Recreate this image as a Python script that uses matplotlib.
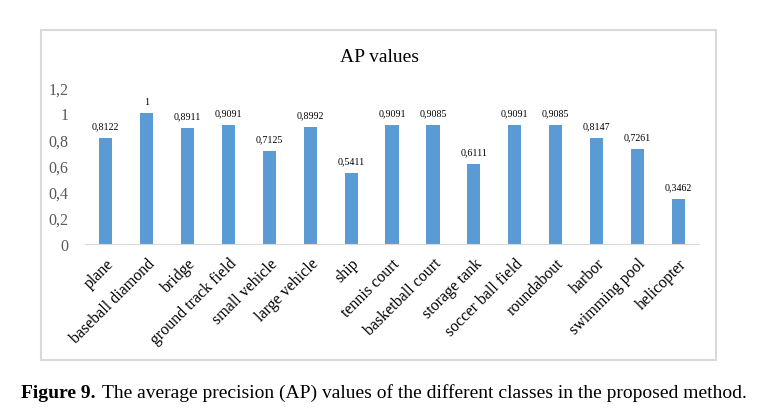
import matplotlib.pyplot as plt
from matplotlib.patches import Rectangle

classes = ["plane", "baseball diamond", "bridge", "ground track field", "small vehicle",
           "large vehicle", "ship", "tennis court", "basketball court", "storage tank",
           "soccer ball field", "roundabout", "harbor", "swimming pool", "helicopter"]
ap_values = [0.8122, 1, 0.8911, 0.9091, 0.7125, 0.8992, 0.5411, 0.9091, 0.9085,
             0.6111, 0.9091, 0.9085, 0.8147, 0.7261, 0.3462]
ap_labels = ["0,8122", "1", "0,8911", "0,9091", "0,7125", "0,8992", "0,5411", "0,9091",
             "0,9085", "0,6111", "0,9091", "0,9085", "0,8147", "0,7261", "0,3462"]
y_ticks = [0, 0.2, 0.4, 0.6, 0.8, 1, 1.2]
y_tick_labels = ["0", "0,2", "0,4", "0,6", "0,8", "1", "1,2"]

plt.rcParams['font.family'] = ['Liberation Serif', 'DejaVu Serif']

fig = plt.figure(figsize=(7.59, 4.14), dpi=100)

# cadre gris autour du graphique
fig.patches.append(Rectangle((0.054, 0.128), 0.889, 0.797, transform=fig.transFigure,
                             fill=False, edgecolor='#D9D9D9', linewidth=1.5))

ax = fig.add_axes([0.112, 0.408, 0.809, 0.379])
x = list(range(len(classes)))
bars = ax.bar(x, ap_values, width=0.32, color='#5B9BD5')

for bar, lab in zip(bars, ap_labels):
    ax.annotate(lab, (bar.get_x() + bar.get_width() / 2, bar.get_height()),
                xytext=(0, 5.5), textcoords='offset points', ha='center', va='bottom',
                fontsize=7.2, color='#000000')

ax.set_xlim(-0.5, len(classes) - 0.5)
ax.set_ylim(0, 1.2)
ax.set_yticks(y_ticks)
ax.set_yticklabels(y_tick_labels, fontsize=11.5, color='#595959')
ax.set_xticks(x)
ax.set_xticklabels(classes, rotation=45, ha='right', rotation_mode='anchor',
                   fontsize=11.5, color='#000000')
ax.tick_params(axis='both', length=0)
ax.tick_params(axis='y', pad=12)
ax.tick_params(axis='x', pad=8)

for side in ['top', 'right', 'left']:
    ax.spines[side].set_visible(False)
ax.spines['bottom'].set_color('#D9D9D9')

fig.text(0.5, 0.862, "AP values", ha='center', va='center', fontsize=14, color='#000000')

# legende de la figure : partie en gras puis texte normal juste apres
cap_y = 1 - 398 / 414
t1 = fig.text(21 / 759, cap_y, "Figure 9.", ha='left', va='baseline', fontsize=14, fontweight='bold')
fig.canvas.draw()
bb = t1.get_window_extent()
fig.text((bb.x1 + 6) / 759, cap_y,
         "The average precision (AP) values of the different classes in the proposed method.",
         ha='left', va='baseline', fontsize=14)

fig.savefig("out.png", dpi=100)
